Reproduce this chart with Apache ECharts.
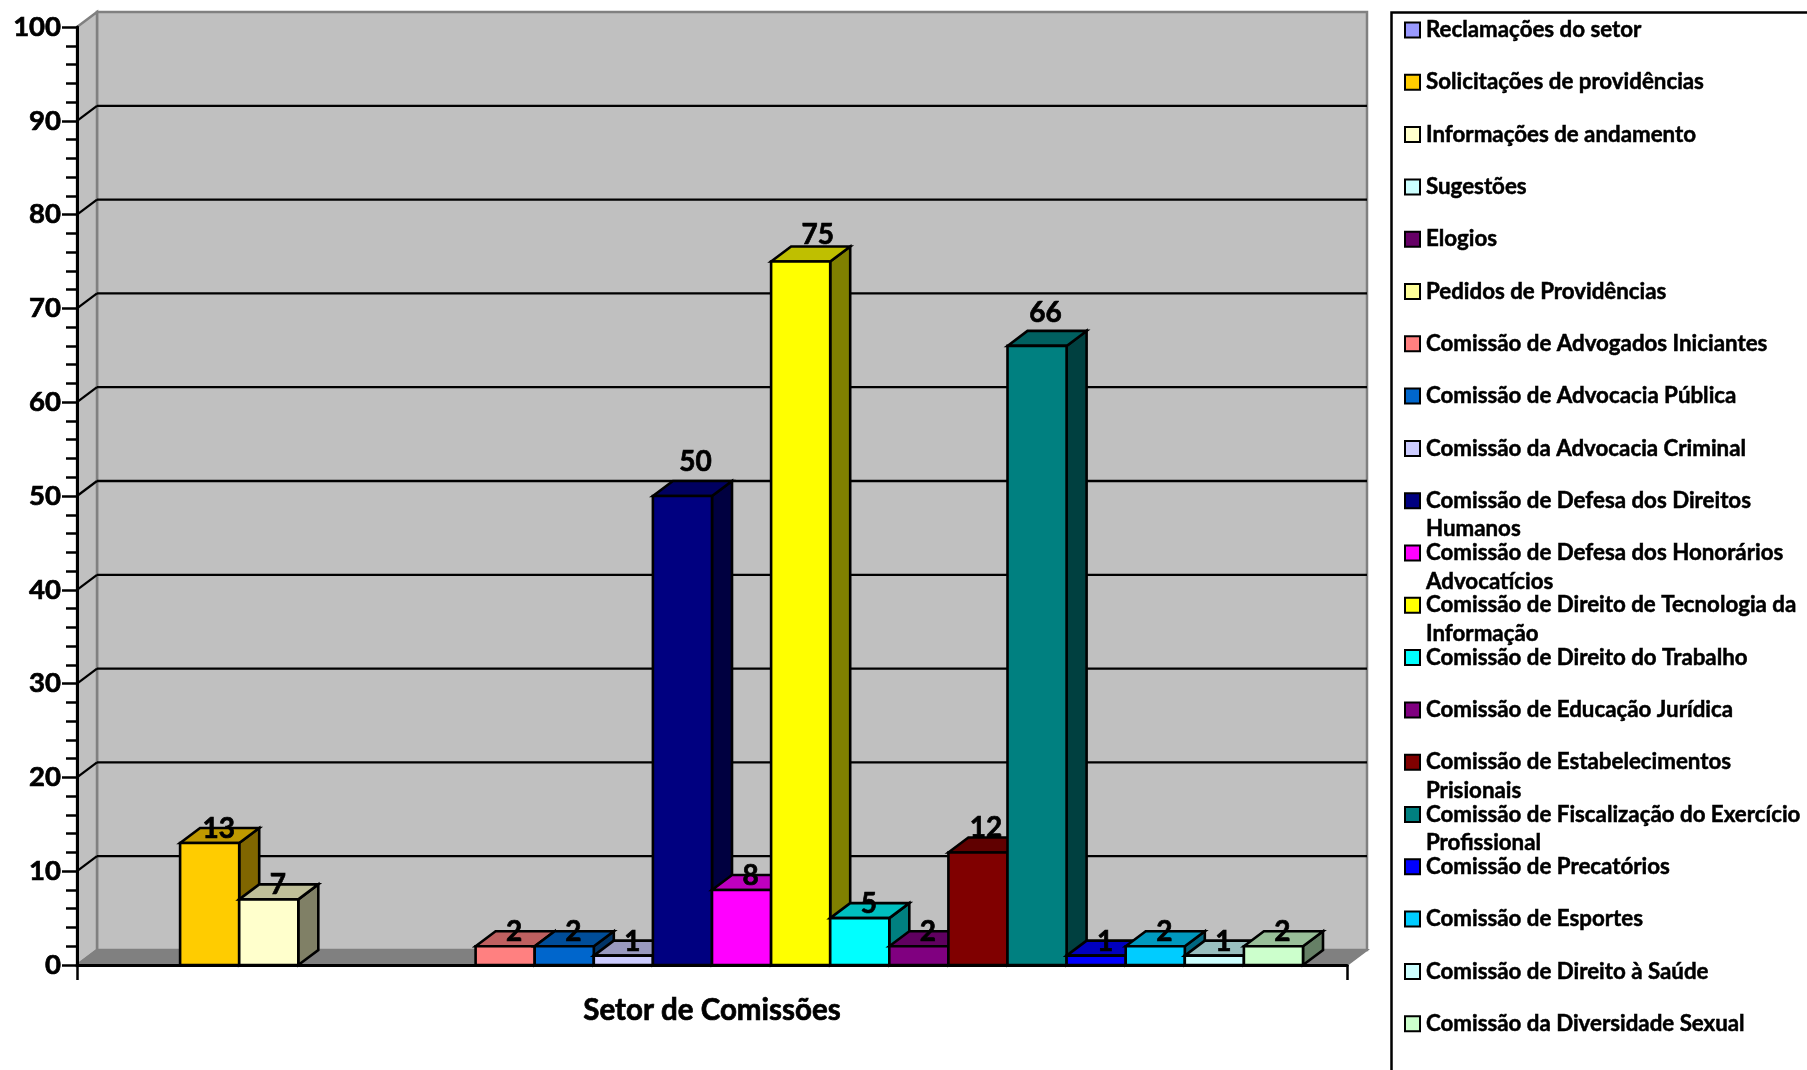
<!DOCTYPE html>
<html><head><meta charset="utf-8">
<style>html,body{margin:0;padding:0;background:#fff}#c{width:1807px;height:1070px}</style>
<script src="https://cdn.jsdelivr.net/npm/echarts@6/dist/echarts.min.js"></script>
</head><body><div id="c"></div>
<script>
const category = 'Setor de Comissões';
const seriesLabels = ['Reclamações do setor','Solicitações de providências','Informações de andamento','Sugestões','Elogios','Pedidos de Providências','Comissão de Advogados Iniciantes','Comissão de Advocacia Pública','Comissão da Advocacia Criminal','Comissão de Defesa dos Direitos\nHumanos','Comissão de Defesa dos Honorários\nAdvocatícios','Comissão de Direito de Tecnologia da\nInformação','Comissão de Direito do Trabalho','Comissão de Educação Jurídica','Comissão de Estabelecimentos\nPrisionais','Comissão de Fiscalização do Exercício\nProfissional','Comissão de Precatórios','Comissão de Esportes','Comissão de Direito à Saúde','Comissão da Diversidade Sexual'];
const seriesValues = [null,13,7,null,null,null,2,2,1,50,8,75,5,2,12,66,1,2,1,2];
const seriesColors = ['#9999FF','#FFCC00','#FFFFCC','#CCFFFF','#660066','#FFFF99','#FF8080','#0066CC','#CCCCFF','#000080','#FF00FF','#FFFF00','#00FFFF','#800080','#800000','#008080','#0000FF','#00CCFF','#CCFFFF','#CCFFCC'];
const yTicks = [0,10,20,30,40,50,60,70,80,90,100];

const FONT = 'Lato';
const DX = 20, DY = 15, GAP = 88/1270;
const LEG_LH = 28.5, LEG_STEP = 52.3;
const labelShift = {9:[13,34],11:[17,27],14:[8,24],15:[8.5,33]};
const shade = (hex,f)=>{const n=parseInt(hex.slice(1),16);return 'rgb('+[(n>>16)&255,(n>>8)&255,n&255].map(c=>Math.round(c*f)).join(',')+')';};
const names = seriesLabels.map(s=>s.replace('\n',' '));
const lblByName = {};
names.forEach((n,i)=>{const p=seriesLabels[i].split('\n'); lblByName[n]=' \n'+p[0]+'\n'+(p[1]||' ');});

const poly=(pts,fill,stroke,lw)=>({type:'polygon',shape:{points:pts},style:{fill:fill,stroke:stroke,lineWidth:lw,lineJoin:'miter'}});
const line=(a,b,stroke,lw)=>({type:'line',shape:{x1:a[0],y1:a[1],x2:b[0],y2:b[1]},style:{stroke:stroke,lineWidth:lw}});

function wallItem(params,api){
  const band=api.size([1,0])[0];
  const c0=api.coord([0,0]), c1=api.coord([0,100]);
  const L=c0[0]-band/2, R=c0[0]+band/2, B=c0[1], T=c1[1];
  const grey='#808080';
  const kids=[
    poly([[L+DX,T-DY],[R+DX,T-DY],[R+DX,B-DY],[L+DX,B-DY]],'#C0C0C0',grey,2.5),
    poly([[L,T],[L+DX,T-DY],[L+DX,B-DY],[L,B]],'#C0C0C0',grey,2.5),
    poly([[L,B],[L+DX,B-DY],[R+DX,B-DY],[R,B]],grey,grey,2)
  ];
  yTicks.forEach(v=>{
    if(v===0||v===100) return;
    const y=api.coord([0,v])[1];
    kids.push(line([L,y],[L+DX,y-DY],'#000',2.3));
    kids.push(line([L+DX,y-DY],[R+DX,y-DY],'#000',2.3));
  });
  return {type:'group',children:kids};
}
function barItem(i){
  return function(params,api){
    const v=api.value(1);
    if(v==null||isNaN(v)) return null;
    const band=api.size([1,0])[0];
    const w=band*(1-GAP)/seriesValues.length;
    const c=api.coord([0,0]), t=api.coord([0,v]);
    const x0=c[0]-w*seriesValues.length/2+i*w, x1=x0+w, B=c[1], Y=t[1];
    const col=seriesColors[i];
    const s=labelShift[i]||[9,14];
    return {type:'group',children:[
      poly([[x1,B],[x1+DX,B-DY],[x1+DX,Y-DY],[x1,Y]],shade(col,.5),'#000',2.6),
      poly([[x0,Y],[x0+DX,Y-DY],[x1+DX,Y-DY],[x1,Y]],shade(col,.75),'#000',2.6),
      poly([[x0,B],[x1,B],[x1,Y],[x0,Y]],col,'#000',2.6),
      {type:'text',z2:100,style:{x:(x0+x1)/2+s[0],y:Y-s[1],text:String(v),fill:'#000',stroke:'#000',lineWidth:.7,font:'bold 28px '+FONT,align:'center',verticalAlign:'middle'}}
    ]};
  };
}

const chart=echarts.init(document.getElementById('c'),null,{renderer:'canvas'});
chart.setOption({
  animation:false,
  backgroundColor:'#fff',
  textStyle:{fontFamily:FONT},
  grid:{left:77,right:460,top:27,bottom:105,containLabel:false},
  xAxis:{type:'category',data:[category],z:10,
    axisLine:{lineStyle:{color:'#000',width:3.2}},
    axisTick:{show:true,length:15,lineStyle:{color:'#000',width:2.5}},
    axisLabel:{color:'#000',fontFamily:FONT,fontWeight:'bold',fontSize:29.5,margin:30,textBorderColor:'#000',textBorderWidth:.7}},
  yAxis:{type:'value',min:0,max:100,interval:10,z:10,
    axisLine:{show:true,lineStyle:{color:'#000',width:3}},
    axisTick:{show:true,length:15,lineStyle:{color:'#000',width:2.5}},
    minorTick:{show:true,splitNumber:5,length:11,lineStyle:{color:'#000',width:2.5}},
    splitLine:{show:false},minorSplitLine:{show:false},
    axisLabel:{color:'#000',fontFamily:FONT,fontWeight:'bold',fontSize:27.5,margin:16,textBorderColor:'#000',textBorderWidth:.7}},
  legend:{orient:'vertical',left:1404,top:30-LEG_LH*1.5,height:1300,padding:0,itemWidth:15,itemHeight:15,itemGap:LEG_STEP-3*LEG_LH,icon:'rect',selectedMode:false,
    data:names,
    formatter:n=>lblByName[n],
    itemStyle:{borderColor:'#000',borderWidth:2},
    textStyle:{color:'#000',fontFamily:FONT,fontWeight:'bold',fontSize:22.3,lineHeight:LEG_LH,padding:[0,0,0,1],textBorderColor:'#000',textBorderWidth:.5}},
  graphic:[{type:'rect',silent:true,left:1389,top:10,shape:{width:600,height:1200},style:{fill:'none',stroke:'#000',lineWidth:2.5}}],
  series:[
    {type:'custom',name:'__walls',silent:true,z:1,clip:false,data:[[0,0]],renderItem:wallItem,encode:{x:0,y:1}},
    ...names.map((n,i)=>({type:'custom',name:n,silent:true,z:2,clip:false,
      itemStyle:{color:seriesColors[i]},
      data:[[0,seriesValues[i]]],renderItem:barItem(i),encode:{x:0,y:1}}))
  ]
});
</script></body></html>
